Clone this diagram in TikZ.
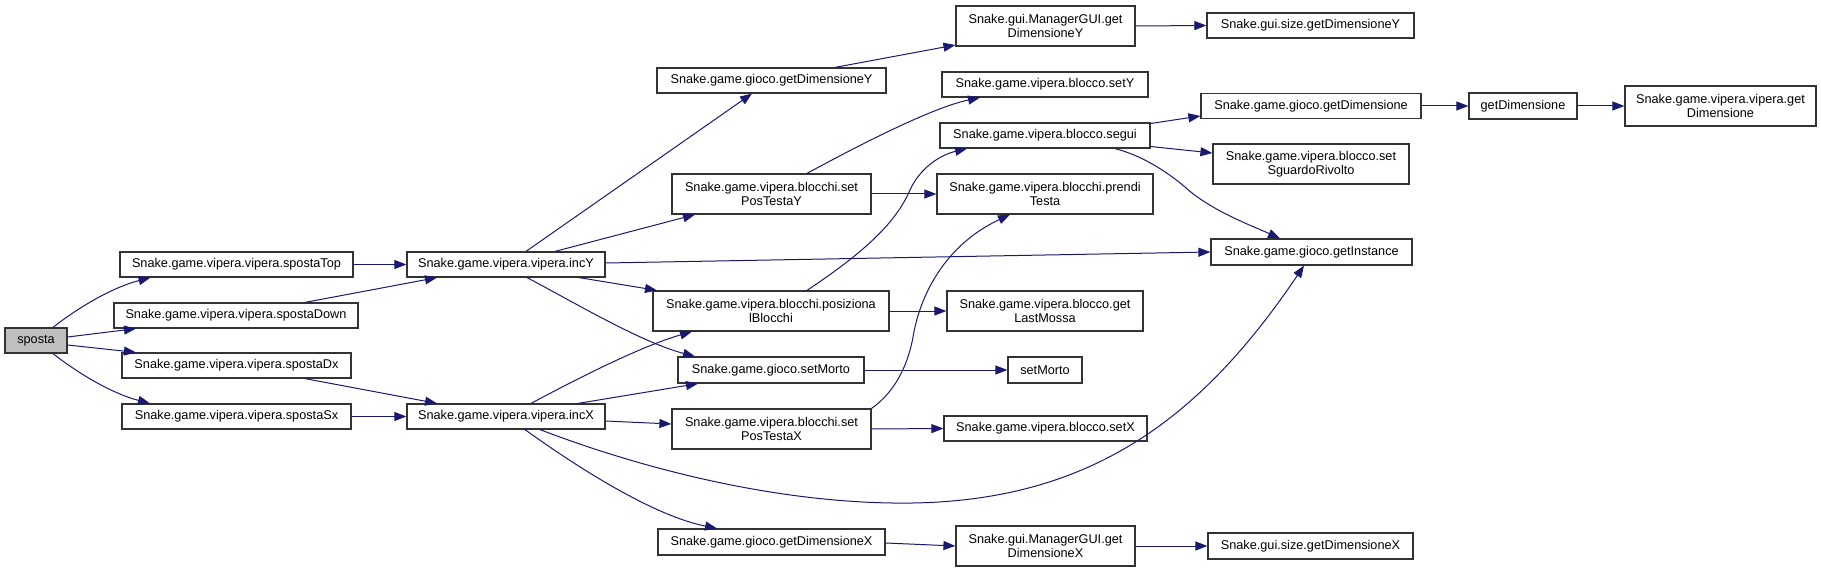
\documentclass[tikz,border=0pt]{standalone}
\usepackage{fontspec}
\setmainfont{Liberation Sans}
\usetikzlibrary{arrows.meta}
\definecolor{edgeblue}{RGB}{25,25,112}
\definecolor{boxgray}{RGB}{191,191,191}
\begin{document}
\begin{tikzpicture}[x=1pt,y=-1pt,
  fn/.style={draw=black!80,line width=1.2pt,fill=white,inner sep=0pt,align=center,
    font=\fontsize{12.7}{14.3}\selectfont},
  edge/.style={draw=edgeblue,line width=1pt,-{Triangle[length=12pt,width=9pt]}}]
\useasboundingbox (0,0) rectangle (1821,572);
\fill[white] (0,0) rectangle (1821,572);
% nodes
\node[fn,fill=boxgray,minimum width=62pt,minimum height=25pt] (sposta) at (36,340.5) {sposta};
\node[fn,minimum width=233pt,minimum height=25pt] (sTop) at (236.5,264.5) {Snake.game.vipera.vipera.spostaTop};
\node[fn,minimum width=244pt,minimum height=25pt] (sDown) at (236,315.5) {Snake.game.vipera.vipera.spostaDown};
\node[fn,minimum width=229pt,minimum height=25pt] (sDx) at (236.5,365.5) {Snake.game.vipera.vipera.spostaDx};
\node[fn,minimum width=229pt,minimum height=25pt] (sSx) at (236.5,416.5) {Snake.game.vipera.vipera.spostaSx};
\node[fn,minimum width=198pt,minimum height=25pt] (incY) at (506,264.5) {Snake.game.vipera.vipera.incY};
\node[fn,minimum width=198pt,minimum height=25pt] (incX) at (506,416.5) {Snake.game.vipera.vipera.incX};
\node[fn,minimum width=229pt,minimum height=25pt] (gDimY) at (771.5,80.5) {Snake.game.gioco.getDimensioneY};
\node[fn,minimum width=199pt,minimum height=40pt] (sptY) at (771.5,194) {Snake.game.vipera.blocchi.set\\PosTestaY};
\node[fn,minimum width=236pt,minimum height=40pt] (posB) at (771,311) {Snake.game.vipera.blocchi.posiziona\\lBlocchi};
\node[fn,minimum width=186pt,minimum height=26pt] (gMorto) at (771,370) {Snake.game.gioco.setMorto};
\node[fn,minimum width=199pt,minimum height=40pt] (sptX) at (771.5,429) {Snake.game.vipera.blocchi.set\\PosTestaX};
\node[fn,minimum width=227pt,minimum height=26pt] (gDimX) at (771.5,542) {Snake.game.gioco.getDimensioneX};
\node[fn,minimum width=179pt,minimum height=40pt] (mgY) at (1045.5,26) {Snake.gui.ManagerGUI.get\\DimensioneY};
\node[fn,minimum width=206pt,minimum height=25pt] (setY) at (1045,84.5) {Snake.game.vipera.blocco.setY};
\node[fn,minimum width=210pt,minimum height=25pt] (segui) at (1045,135.5) {Snake.game.vipera.blocco.segui};
\node[fn,minimum width=216pt,minimum height=40pt] (prendi) at (1045,194) {Snake.game.vipera.blocchi.prendi\\Testa};
\node[fn,minimum width=196pt,minimum height=40pt] (lastM) at (1045,311) {Snake.game.vipera.blocco.get\\LastMossa};
\node[fn,minimum width=74pt,minimum height=26pt] (setMorto) at (1045,370) {setMorto};
\node[fn,minimum width=203pt,minimum height=25pt] (setX) at (1045.5,428.5) {Snake.game.vipera.blocco.setX};
\node[fn,minimum width=179pt,minimum height=40pt] (mgX) at (1045.5,546) {Snake.gui.ManagerGUI.get\\DimensioneX};
\node[fn,minimum width=207pt,minimum height=25pt] (sizeY) at (1310.5,25.5) {Snake.gui.size.getDimensioneY};
\node[fn,minimum width=220pt,minimum height=25pt] (gDim) at (1311,106) {Snake.game.gioco.getDimensione};
\node[fn,minimum width=196pt,minimum height=40pt] (sgu) at (1311,164) {Snake.game.vipera.blocco.set\\SguardoRivolto};
\node[fn,minimum width=201pt,minimum height=26pt] (inst) at (1311.5,252) {Snake.game.gioco.getInstance};
\node[fn,minimum width=205pt,minimum height=26pt] (sizeX) at (1310.5,546) {Snake.gui.size.getDimensioneX};
\node[fn,minimum width=108pt,minimum height=26pt] (getDim) at (1523,106) {getDimensione};
\node[fn,minimum width=191pt,minimum height=40pt] (vDim) at (1720.5,106) {Snake.game.vipera.vipera.get\\Dimensione};
% edges
\draw[edge] ([xshift=17pt]sposta.north) .. controls (75,310) and (110,288) .. ([xshift=-86pt]sTop.south);
\draw[edge] ([yshift=3.5pt]sposta.east) -- ([xshift=-100pt]sDown.south);
\draw[edge] ([yshift=-4.5pt]sposta.east) -- ([xshift=-100.5pt]sDx.north);
\draw[edge] ([xshift=17pt]sposta.south) .. controls (75,371) and (110,393) .. ([xshift=-86.5pt]sSx.north);
\draw[edge] (sTop.east) -- (incY.west);
\draw[edge] ([xshift=69pt]sDown.north) -- ([xshift=-69pt]incY.south);
\draw[edge] ([xshift=68.5pt]sDx.south) -- ([xshift=-69pt]incX.north);
\draw[edge] (sSx.east) -- (incX.west);
\draw[edge] ([xshift=20pt]incY.north) -- ([xshift=-19.5pt]gDimY.south);
\draw[edge] ([xshift=49pt]incY.north) -- ([xshift=-76.5pt]sptY.south);
\draw[edge] ([yshift=1.5pt]incY.east) -- (inst.west);
\draw[edge] ([xshift=73pt]incY.south) -- ([xshift=-114pt]posB.north);
\draw[edge] ([xshift=21pt]incY.south) .. controls (570,300) and (640,342) .. ([xshift=-76pt]gMorto.north);
\draw[edge] ([xshift=25pt]incX.north) .. controls (560,388) and (635,348) .. ([xshift=-79pt]posB.south);
\draw[edge] ([xshift=72pt]incX.north) -- ([xshift=-73pt]gMorto.south);
\draw[edge] ([yshift=-4.5pt]incX.east) -- ([yshift=5pt]sptX.west);
\draw[edge] ([xshift=34pt]incX.south) .. controls (640,468) and (780,505) .. (913,503)
   .. controls (1090,500) and (1200,420) .. ([xshift=-7.5pt]inst.south);
\draw[edge] ([xshift=19pt]incX.south) .. controls (570,462) and (650,515) .. ([xshift=-54.5pt]gDimX.north);
\draw[edge] ([xshift=63.5pt]gDimY.north) -- ([yshift=-19pt]mgY.west);
\draw[edge] (mgY.east) -- (sizeY.west);
\draw[edge] ([xshift=35.5pt]sptY.north) .. controls (850,150) and (930,108) .. ([xshift=-65pt]setY.south);
\draw[edge] (sptY.east) -- (prendi.west);
\draw[edge] ([xshift=36pt]posB.north) .. controls (860,255) and (895,225) .. (910,190)
   .. controls (920,168) and (940,155) .. ([xshift=-78pt]segui.south);
\draw[edge] (posB.east) -- (lastM.west);
\draw[edge] (gMorto.east) -- (setMorto.west);
\draw[edge] (sptX.north east) .. controls (895,392) and (908,365) .. (913,337)
   .. controls (920,295) and (945,245) .. ([xshift=-35pt]prendi.south);
\draw[edge] (sptX.east) -- (setX.west);
\draw[edge] ([yshift=12pt]segui.east) -- ([yshift=-10pt]gDim.west);
\draw[edge] ([yshift=-11pt]segui.east) -- ([yshift=11pt]sgu.west);
\draw[edge] ([xshift=70pt]segui.south) .. controls (1140,155) and (1165,170) .. (1185,187)
   .. controls (1210,210) and (1250,225) .. ([xshift=-31.5pt]inst.north);
\draw[edge] (gDim.east) -- (getDim.west);
\draw[edge] (getDim.east) -- (vDim.west);
\draw[edge] ([yshift=-1pt]gDimX.east) -- (mgX.west);
\draw[edge] (mgX.east) -- (sizeX.west);
\end{tikzpicture}
\end{document}
